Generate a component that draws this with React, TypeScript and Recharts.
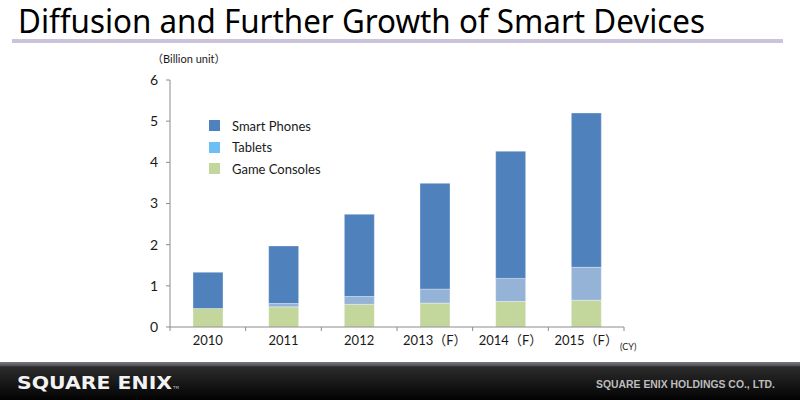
import React from 'react';
import { BarChart, Bar, XAxis, YAxis } from 'recharts';

const categories = ['2010', '2011', '2012', '2013（F）', '2014（F）', '2015（F）'];
const smartPhones = [0.88, 1.4, 2.0, 2.57, 3.09, 3.75];
const tablets = [0.0, 0.08, 0.19, 0.34, 0.56, 0.8];
const gameConsoles = [0.45, 0.49, 0.55, 0.58, 0.62, 0.65];
const yTicks = [0, 1, 2, 3, 4, 5, 6];

const seriesNames = ['Smart Phones', 'Tablets', 'Game Consoles'];
const barColors = ['#4F81BD', '#95B3D7', '#C3D69B'];
const legendColors = ['#4F81BD', '#6CBFF2', '#C3D69B'];

const data = categories.map((c, i) => ({
  year: c,
  phones: smartPhones[i],
  tablets: tablets[i],
  consoles: gameConsoles[i],
}));

const FONT = 'Lato, "Noto Sans", "Noto Sans CJK JP", sans-serif';

const XTick = (props: any) => {
  const { x, y, payload, index, width, visibleTicksCount } = props;
  const half = width / visibleTicksCount / 2;
  const axisY = y - 6;
  return (
    <g>
      <line x1={x - half} x2={x - half} y1={axisY} y2={axisY + 4} stroke="#8c8c8c" />
      {index === visibleTicksCount - 1 && (
        <line x1={x + half} x2={x + half} y1={axisY} y2={axisY + 4} stroke="#8c8c8c" />
      )}
      <text x={x} y={y} dy={12} textAnchor="middle" fill="#1a1a1a" fontSize={13} fontFamily={FONT}>
        {payload.value}
      </text>
    </g>
  );
};

export default function App() {
  return (
    <div style={{ position: 'absolute', left: 0, top: 0, width: 800, height: 400, background: '#fff', overflow: 'hidden' }}>
      <svg width={800} height={400} style={{ position: 'absolute', left: 0, top: 0 }}>
        <defs>
          <linearGradient id="foot" x1="0" y1="0" x2="0" y2="1">
            <stop offset="0" stopColor="#7a7a80" />
            <stop offset="0.09" stopColor="#55555a" />
            <stop offset="0.13" stopColor="#2c2c2c" />
            <stop offset="1" stopColor="#020202" />
          </linearGradient>
        </defs>
        <text x={18} y={33} fontSize={32} fontFamily='"Noto Sans", sans-serif' fill="#000" textLength={687} lengthAdjust="spacingAndGlyphs">
          Diffusion and Further Growth of Smart Devices
        </text>
        <rect x={12} y={39} width={771} height={4} fill="#CBC3DC" />
        <text x={152} y={63} fontSize={11} fontFamily={FONT} fill="#1a1a1a">（Billion unit）</text>
        <text x={620} y={350} fontSize={9} fontFamily={FONT} fill="#1a1a1a">(CY)</text>
        <rect x={0} y={362} width={800} height={38} fill="url(#foot)" />
        <text x={17} y={389} fontSize={18} fontWeight="bold" fontFamily='"DejaVu Sans", sans-serif' fill="#f2f2f2" textLength={155} lengthAdjust="spacingAndGlyphs">
          SQUARE ENIX
        </text>
        <text x={173} y={389} fontSize={4} fontFamily='"DejaVu Sans", sans-serif' fill="#bbb">TM</text>
        <text x={596} y={388} fontSize={11} fontWeight="bold" fontFamily='"Liberation Sans Narrow", "Liberation Sans", sans-serif' fill="#bdbdbd" textLength={179} lengthAdjust="spacingAndGlyphs">
          SQUARE ENIX HOLDINGS CO., LTD.
        </text>
      </svg>
      <BarChart
        width={800}
        height={400}
        data={data}
        margin={{ top: 80, right: 176, left: 110, bottom: 43 }}
        barSize={30}
        style={{ position: 'absolute', left: 0, top: 0 }}
      >
        <XAxis
          dataKey="year"
          height={30}
          axisLine={{ stroke: '#8c8c8c' }}
          tickLine={false}
          tickSize={4}
          tickMargin={2}
          interval={0}
          tick={<XTick />}
        />
        <YAxis
          width={60}
          domain={[0, 6]}
          ticks={yTicks}
          interval={0}
          axisLine={{ stroke: '#8c8c8c' }}
          tickLine={{ stroke: '#8c8c8c' }}
          tickSize={4}
          tickMargin={8}
          tick={{ fill: '#1a1a1a', fontSize: 14, fontFamily: FONT }}
        />
        <Bar dataKey="consoles" name={seriesNames[2]} stackId="a" fill={barColors[2]} stroke="#ffffff" strokeOpacity={0.35} isAnimationActive={false} />
        <Bar dataKey="tablets" name={seriesNames[1]} stackId="a" fill={barColors[1]} stroke="#ffffff" strokeOpacity={0.35} isAnimationActive={false} />
        <Bar dataKey="phones" name={seriesNames[0]} stackId="a" fill={barColors[0]} stroke="#ffffff" strokeOpacity={0.35} isAnimationActive={false} />
      </BarChart>
      <div style={{ position: 'absolute', left: 209, top: 115, fontFamily: FONT, fontSize: 13, color: '#1a1a1a' }}>
        {seriesNames.map((n, i) => (
          <div key={n} style={{ display: 'flex', alignItems: 'center', height: 21.5 }}>
            <div style={{ width: 11, height: 11, background: legendColors[i], marginRight: 12 }} />
            <span>{n}</span>
          </div>
        ))}
      </div>
    </div>
  );
}
